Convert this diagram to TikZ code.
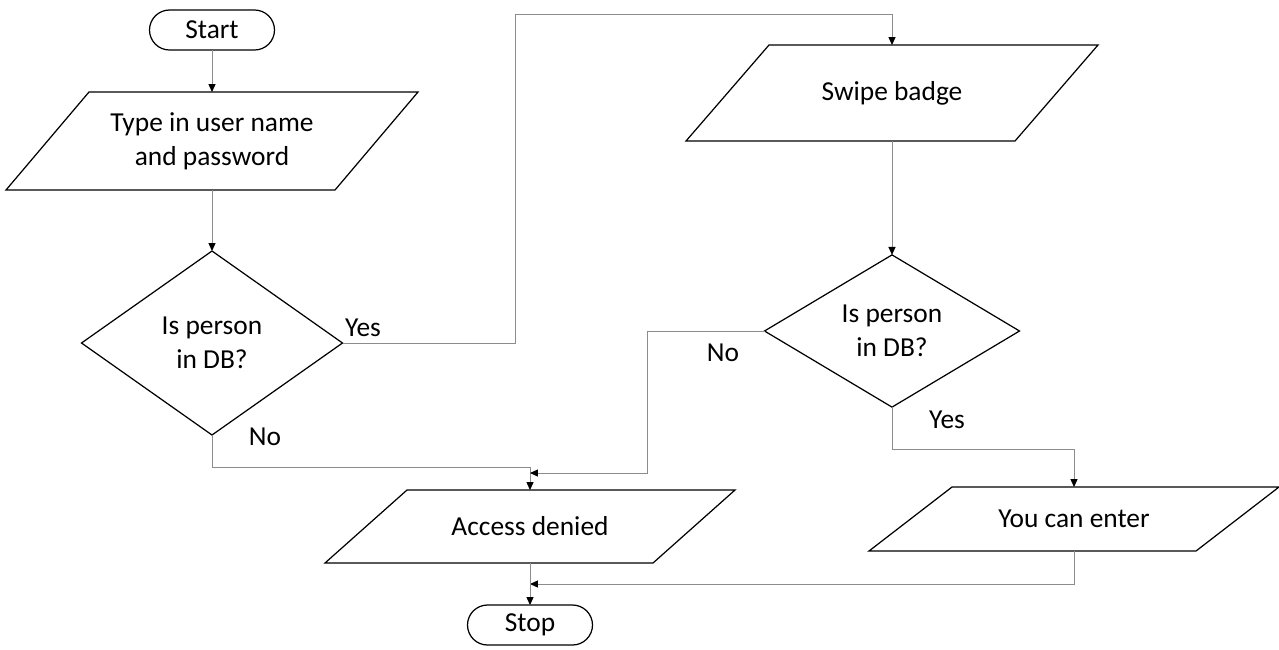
\documentclass[tikz,border=0pt]{standalone}
\usepackage{fontspec}
\setmainfont{Carlito}
\usetikzlibrary{shapes.geometric,arrows.meta}

\definecolor{lineGray}{RGB}{140,140,140}

\tikzset{
    term/.style={draw, line width=0.7pt, rectangle, rounded corners=0.4cm, minimum width=2.5cm, minimum height=0.8cm, inner sep=0pt, outer sep=0pt},
    io/.style={rectangle, inner sep=0pt, outer sep=0pt, align=center},
    ioline/.style={line width=0.7pt, line join=miter},
    decide/.style={draw, line width=0.7pt, diamond, inner sep=0pt, outer sep=0pt, align=center},
    flow/.style={draw=lineGray, line width=0.55pt, -{Triangle[length=4.5pt,width=4pt,color=black]}},
    lbl/.style={inner sep=0pt}
}

\begin{document}
\begin{tikzpicture}[font=\fontsize{15.6}{19.3}\selectfont]

        \useasboundingbox (0,0) rectangle (25.58,-12.98);

        % left column
        \node[term] (start) at (4.24,-0.6) {Start};
        \node[io, minimum width=6.58cm, minimum height=1.96cm] (login) at (4.24,-2.82) {Type in user name\\and password};
        \node[decide, minimum width=5.22cm, minimum height=3.68cm] (checkone) at (4.24,-6.86) {Is person\\in DB?};

        % right column
        \node[io, minimum width=6.58cm, minimum height=1.92cm] (badge) at (17.84,-1.86) {Swipe badge};
        \node[decide, minimum width=5.1cm, minimum height=3.0cm] (checktwo) at (17.84,-6.62) {Is person\\in DB?};
        \node[io, minimum width=6.54cm, minimum height=1.28cm] (enter) at (21.48,-10.38) {You can enter};

        % bottom
        \node[io, minimum width=6.56cm, minimum height=1.46cm] (denied) at (10.6,-10.53) {Access denied};
        \node[term] (stop) at (10.6,-12.5) {Stop};

        % slanted outlines of the input/output boxes
        \foreach \n/\s in {login/0.83, badge/0.83, denied/0.82, enter/0.83}
            \draw[ioline] ([xshift=\s cm]\n.north west) -- ([xshift=\s cm]\n.north east)
            -- ([xshift=-\s cm]\n.south east) -- ([xshift=-\s cm]\n.south west) -- cycle;

        \coordinate (loop) at (10.3,-0.28);
        \coordinate (mergeno) at (10.6,-9.34);
        \coordinate (joinno) at (10.6,-9.46);
        \coordinate (joinyes) at (10.6,-11.68);

        \draw[flow] (start) -- (login);
        \draw[flow] (login) -- (checkone);
        \draw[flow] (checkone.east) -| (loop) -| (badge.north);
        \draw[flow] (badge) -- (checktwo);
        \draw[flow] (checkone.south) |- (mergeno) -- (denied.north);
        \draw[flow] (checktwo.west) -- ++(-2.34,0) |- (joinno);
        \draw[flow] (checktwo.south) |- ++(3.64,-0.84) -- (enter.north);
        \draw[flow] (enter.south) |- (joinyes);
        \draw[flow] (denied) -- (stop);

        \node[lbl] (yesone) at (7.26,-6.56) {Yes};
        \node[lbl] (noone) at (5.3,-8.74) {No};
        \node[lbl] (notwo) at (14.46,-7.06) {No};
        \node[lbl] (yestwo) at (18.94,-8.4) {Yes};

\end{tikzpicture}
\end{document}
